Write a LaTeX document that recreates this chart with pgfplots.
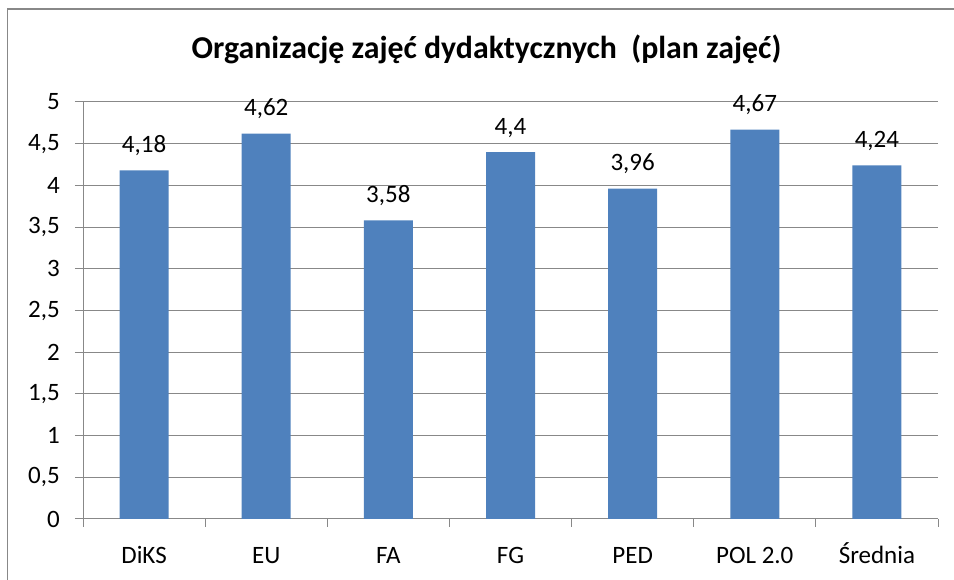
\documentclass[border=0pt]{standalone}
\usepackage{fontspec}
\setmainfont{Carlito}
\usepackage{pgfplots}
\pgfplotsset{compat=1.18}
\definecolor{barblue}{HTML}{4F81BD}
\definecolor{gridgray}{HTML}{888888}
\begin{document}
\begin{tikzpicture}[x=1pt,y=1pt]
\useasboundingbox (0,0) rectangle (954,580);
\draw[gridgray, line width=1.6pt] (7.5,-20) -- (7.5,571) -- (980,571);
\node[font=\fontsize{31.8}{36}\selectfont\bfseries, anchor=base] at (486.5,521) {Organizację zajęć dydaktycznych\ \ (plan zajęć)};
\begin{axis}[
  at={(83pt,61pt)}, anchor=south west,
  scale only axis, width=855pt, height=417pt,
  ybar, bar width=49pt,
  xmin=-0.5, xmax=6.5, ymin=0, ymax=5,
  axis x line*=bottom, axis y line*=left,
  axis line style={gridgray, line width=1pt, -},
  xtick={0,...,6},
  xticklabels={DiKS,EU,FA,FG,PED,POL 2.0,Średnia},
  major x tick style={draw=none},
  minor xtick={-0.5,0.5,...,6.5},
  minor x tick style={gridgray, line width=1pt},
  minor tick length=8pt,
  ytick={0,0.5,...,5},
  y tick style={gridgray, line width=1pt},
  major tick length=8pt,
  tick align=outside,
  ymajorgrids, grid style={gridgray, line width=1pt},
  /pgf/number format/use comma,
  /pgf/number format/assume math mode=true,
  /pgf/number format/precision=2,
  ticklabel style={font=\fontsize{25}{30}\selectfont},
  yticklabel style={anchor=east, inner sep=0pt, xshift=-15pt},
  xticklabel style={anchor=base, inner sep=0pt, yshift=-37pt},
  nodes near coords,
  every node near coord/.append style={font=\fontsize{25}{30}\selectfont, anchor=base, inner sep=0pt, yshift=18pt, black},
]
\addplot[fill=barblue, draw=none] coordinates {(0,4.18) (1,4.62) (2,3.58) (3,4.4) (4,3.96) (5,4.67) (6,4.24)};
\end{axis}
\end{tikzpicture}
\end{document}
